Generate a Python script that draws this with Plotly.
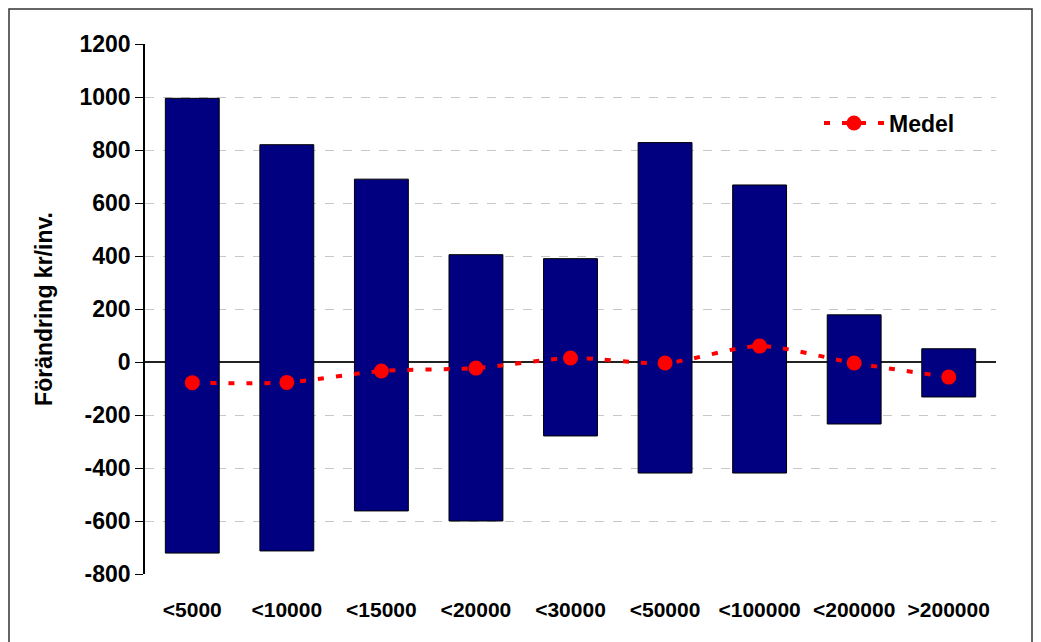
import plotly.graph_objects as go

categories = ["<5000", "<10000", "<15000", "<20000", "<30000", "<50000", "<100000", "<200000", ">200000"]
max_values = [995, 820, 690, 405, 390, 828, 668, 178, 50]
min_values = [-721, -713, -562, -600, -279, -419, -419, -234, -132]
mean_values = [-78, -77, -34, -23, 15, -4, 60, -4, -57]
y_ticks = [-800, -600, -400, -200, 0, 200, 400, 600, 800, 1000, 1200]
y_tick_labels = ["-800", "-600", "-400", "-200", "0", "200", "400", "600", "800", "1000", "1200"]

W, H = 1041, 642
L, R, T, B = 137, 53, 36, 76
pw = W - L - R
ph = H - T - B

fig = go.Figure()
fig.add_trace(go.Bar(
    x=categories,
    y=[mx - mn for mx, mn in zip(max_values, min_values)],
    base=min_values,
    marker=dict(color="#000080", line=dict(color="black", width=1)),
    width=0.57,
    showlegend=False,
    hoverinfo="skip",
))
fig.add_trace(go.Scatter(
    x=categories,
    y=mean_values,
    mode="lines+markers",
    name="Medel",
    line=dict(color="#FF0000", width=4, dash="6px,12px", shape="spline", smoothing=0.8),
    marker=dict(color="#FF0000", size=15),
))

fig.add_shape(type="rect", xref="paper", yref="paper",
              x0=(1 - L) / pw, x1=(1024 - L) / pw,
              y0=(H - T - 720) / ph, y1=(ph + T - 1) / ph,
              line=dict(color="#333333", width=1.5), layer="below")

fig.update_layout(
    width=W, height=H,
    margin=dict(l=L, r=R, t=T, b=B, autoexpand=False),
    paper_bgcolor="white",
    plot_bgcolor="white",
    font=dict(family="Arial, Liberation Sans, sans-serif", color="black"),
    legend=dict(x=(811 - L) / pw, y=(T + ph - 115) / ph, xanchor="left", yanchor="middle",
                font=dict(size=23, weight="bold"), itemwidth=60,
                bgcolor="rgba(0,0,0,0)"),
    xaxis=dict(
        showline=False, showgrid=False, zeroline=False, automargin=False,
        tickfont=dict(size=21, weight="bold"),
        ticks="", ticklabelstandoff=21,
        range=[-0.5, 8.5],
    ),
    yaxis=dict(
        range=[-800, 1200], tickvals=y_ticks, ticktext=y_tick_labels, automargin=False,
        showline=True, linecolor="black", linewidth=1.5,
        ticks="outside", ticklen=8, tickcolor="black",
        showgrid=True, gridcolor="#C8C8C8", griddash="dash", gridwidth=1,
        zeroline=True, zerolinecolor="#222222", zerolinewidth=1.5,
        tickfont=dict(size=23, weight="bold"),
        title=dict(text="Förändring kr/inv.", font=dict(size=23, weight="bold"), standoff=20),
    ),
)

fig.write_html("out.html")
